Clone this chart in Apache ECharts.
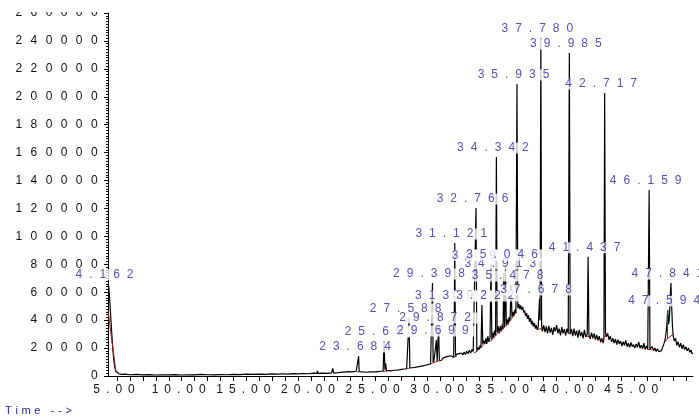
<!DOCTYPE html>
<html>
<head>
<meta charset="utf-8">
<script src="https://cdn.jsdelivr.net/npm/echarts@6/dist/echarts.min.js"></script>
<style>
  html, body { margin: 0; padding: 0; background: #fff; }
  #chart { width: 699px; height: 420px; }
</style>
</head>
<body>
<div id="chart"></div>
<script>
// TIC trace, [time (min), abundance]
const trace = [
  [4.30, 66000], [4.36, 64000], [4.42, 56000], [4.50, 44000], [4.58, 32000], [4.66, 21000],
  [4.74, 12000], [4.82, 6500], [4.90, 3600], [5.00, 2300], [5.15, 1600], [5.35, 1200],
  [5.6, 1300], [6.0, 900], [6.5, 1100], [7.0, 800], [7.5, 1000], [8.0, 700], [8.5, 900],
  [9.0, 800], [9.5, 1000], [10.0, 700], [10.5, 900], [11.0, 800], [11.5, 1100], [12.0, 900],
  [12.5, 800], [13.0, 1000], [13.5, 900], [14.0, 1200], [14.5, 1000], [15.0, 1300], [15.5, 1100],
  [16.0, 1400], [16.5, 1200], [17.0, 1500], [17.4, 1300], [17.8, 1600], [18.2, 1400], [18.6, 1700],
  [19.0, 1500], [19.4, 1800], [19.8, 1600], [20.2, 2000], [20.45, 1900], [20.5, 3600], [20.55, 1900],
  [20.9, 2100], [21.3, 1900], [21.6, 2200], [21.68, 5500], [21.76, 2100], [22.1, 2400], [22.5, 2800],
  [22.9, 3200], [23.2, 2900], [23.5, 3400], [23.64, 3300], [23.684, 14300], [23.73, 3100],
  [24.0, 2900], [24.3, 2700], [24.55, 3000], [24.6, 4200], [24.65, 2800], [25.0, 3000], [25.3, 3300],
  [25.58, 3600], [25.651, 25000], [25.72, 4600], [25.78, 9000], [25.84, 3800],
  [26.0, 3900], [26.1, 4500], [26.2, 3700], [26.3, 4400], [26.4, 4100], [26.5, 5000], [26.6, 4200],
  [26.7, 4800], [26.8, 4400], [26.9, 5300], [27.0, 4700], [27.1, 5400], [27.2, 5000], [27.3, 5800],
  [27.4, 5100], [27.52, 5600], [27.588, 41500], [27.65, 6000], [27.75, 6600], [27.85, 5900],
  [27.95, 6800], [28.05, 6200], [28.15, 7300], [28.25, 6600], [28.35, 7600], [28.45, 6900],
  [28.55, 8100], [28.65, 7300], [28.75, 8400], [28.85, 7700], [28.95, 8900], [29.05, 8100],
  [29.15, 9400], [29.25, 8600], [29.34, 9200], [29.398, 66600], [29.45, 9800], [29.52, 11500],
  [29.6, 10200], [29.699, 25800], [29.76, 10800], [29.82, 11200], [29.872, 35100], [29.93, 11000],
  [30.0, 12400], [30.1, 11300], [30.2, 12800], [30.3, 11900], [30.4, 13500], [30.5, 12300],
  [30.6, 14000], [30.7, 12700], [30.8, 14500], [30.9, 13100], [31.03, 13600], [31.093, 50800],
  [31.121, 95300], [31.18, 14000], [31.25, 15500], [31.35, 14200], [31.45, 16000], [31.55, 14600],
  [31.65, 16500], [31.75, 15000], [31.85, 17200], [31.95, 15400], [32.05, 17800], [32.15, 15900],
  [32.25, 18400], [32.35, 16500], [32.45, 19000], [32.55, 17500], [32.65, 18200], [32.7, 16800],
  [32.766, 120300], [32.83, 18000], [32.9, 20500], [33.0, 18800], [33.08, 22000], [33.15, 20000],
  [33.222, 50800], [33.29, 22500], [33.36, 25500], [33.45, 22800], [33.53, 27000], [33.6, 23000],
  [33.68, 28500], [33.75, 24500], [33.85, 27500], [33.927, 80000], [33.99, 26000], [34.06, 31000],
  [34.13, 27500], [34.2, 32500], [34.28, 29000], [34.342, 156900], [34.40, 31000], [34.48, 35500],
  [34.56, 30500], [34.64, 36000], [34.72, 32000], [34.8, 37000], [34.86, 33500], [34.913, 73800],
  [34.98, 35000], [35.046, 80200], [35.11, 36500], [35.18, 40500], [35.25, 37000], [35.32, 42000],
  [35.4, 39500], [35.478, 65200], [35.55, 42000], [35.62, 46000], [35.7, 43000], [35.78, 47500],
  [35.85, 45000], [35.935, 209200], [36.0, 48500], [36.08, 51500], [36.15, 48000], [36.22, 50500],
  [36.3, 47500], [36.38, 49500], [36.45, 45500], [36.52, 47000], [36.6, 43000], [36.68, 45000],
  [36.75, 41000], [36.82, 43500], [36.9, 39000], [36.98, 41500], [37.05, 37000], [37.12, 39500],
  [37.2, 35500], [37.28, 38000], [37.35, 34000], [37.42, 36500], [37.5, 33000], [37.58, 35500],
  [37.62, 34500], [37.678, 55200], [37.72, 40000], [37.780, 242100], [37.84, 36000], [37.9, 32000],
  [38.0, 36500], [38.1, 31500], [38.2, 35500], [38.3, 30500], [38.4, 36000], [38.5, 31000],
  [38.6, 34500], [38.7, 29500], [38.8, 35000], [38.9, 32000], [39.0, 36500], [39.1, 30500],
  [39.2, 34000], [39.3, 29000], [39.4, 35000], [39.5, 30500], [39.6, 33500], [39.7, 29000],
  [39.8, 34000], [39.9, 30500], [39.985, 231400], [40.05, 30000], [40.15, 33500], [40.25, 28500],
  [40.35, 34000], [40.45, 29000], [40.55, 32500], [40.65, 27500], [40.75, 33000], [40.85, 28500],
  [40.95, 31500], [41.05, 27000], [41.15, 33000], [41.25, 28000], [41.37, 30000], [41.437, 85400],
  [41.5, 29500], [41.6, 26500], [41.7, 31000], [41.8, 27000], [41.9, 30500], [42.0, 26000],
  [42.1, 29500], [42.2, 25500], [42.3, 28500], [42.4, 24500], [42.5, 27000], [42.6, 23500],
  [42.66, 26500], [42.717, 202700], [42.78, 31000], [42.85, 28000], [42.95, 30500], [43.05, 26000],
  [43.15, 28500], [43.25, 24500], [43.35, 27000], [43.45, 23500], [43.55, 26500], [43.65, 22500],
  [43.75, 26000], [43.85, 23000], [43.95, 25000], [44.05, 21500], [44.15, 24500], [44.25, 22000],
  [44.35, 25500], [44.45, 21000], [44.55, 23500], [44.65, 20500], [44.75, 24000], [44.85, 21000],
  [44.95, 22500], [45.05, 20000], [45.15, 23000], [45.25, 20500], [45.35, 24500], [45.45, 20000],
  [45.55, 22000], [45.65, 19500], [45.75, 23500], [45.85, 19000], [45.95, 21500], [46.05, 19500],
  [46.1, 20000], [46.159, 133200], [46.22, 19500], [46.3, 18500], [46.4, 21000], [46.5, 18000],
  [46.6, 20000], [46.7, 17500], [46.8, 19500], [46.9, 17500], [47.0, 18500], [47.1, 18000],
  [47.2, 20500], [47.3, 23000], [47.4, 26500], [47.48, 32000], [47.54, 38000], [47.594, 47300],
  [47.65, 37000], [47.71, 40000], [47.77, 52000], [47.841, 66600], [47.9, 50000], [47.96, 36000],
  [48.02, 28500], [48.1, 25000], [48.2, 27000], [48.3, 22000], [48.4, 24500], [48.5, 20500],
  [48.6, 23500], [48.7, 19500], [48.8, 22500], [48.9, 19000], [49.0, 21000], [49.1, 18000],
  [49.2, 20000], [49.3, 17000], [49.4, 18500], [49.47, 16000], [49.55, 16500]
];

// labelled peaks: retention time and apex abundance
const peakTimes = [4.162, 23.684, 25.651, 27.588, 29.398, 29.699, 29.872, 31.093, 31.121, 32.766,
  33.222, 33.927, 34.342, 34.913, 35.046, 35.478, 35.935, 37.678, 37.780, 39.985, 41.437, 42.717,
  46.159, 47.594, 47.841];
const peakHeights = [66000, 14300, 25000, 41500, 66600, 25800, 35100, 50800, 95300, 120300,
  50800, 80000, 156900, 73800, 80200, 65200, 209200, 55200, 242100, 231400, 85400, 202700,
  133200, 47300, 66600];

// integration baselines: [t1, v1, t2, v2]
const baselines = [
  [4.30, 47000, 4.92, 2500], [23.55, 3000, 23.80, 3100], [25.50, 3300, 25.90, 3700],
  [27.45, 5300, 27.75, 5900], [29.30, 9000, 30.00, 11200], [30.95, 13000, 31.25, 14000],
  [32.60, 16500, 32.90, 18000], [33.10, 20000, 33.35, 22000], [33.85, 24500, 34.45, 30500],
  [34.45, 30500, 35.20, 37000], [35.20, 37000, 35.90, 46000], [37.55, 33500, 37.90, 34000],
  [39.90, 30500, 40.10, 30000], [41.30, 28500, 41.60, 28000], [42.40, 24000, 42.95, 31000],
  [46.00, 19500, 46.35, 19500], [47.35, 24000, 47.594, 27000], [47.594, 27000, 47.594, 47300],
  [47.594, 27000, 48.05, 30000]
];

const xLabelValues = [5, 10, 15, 20, 25, 30, 35, 40, 45];
const xTickValues = [];
for (let t = 5; t <= 49; t++) xTickValues.push(t);

const X_MIN = 4.3;
const FONT = "'Liberation Sans', Arial, sans-serif";
const BLUE = '#25259a';
// the plot draws every glyph with wide letter spacing
const spaced = (s, gap) => s.split('').map(c => c + gap).join('');

const chart = echarts.init(document.getElementById('chart'), null, { renderer: 'canvas' });

chart.setOption({
  animation: false,
  backgroundColor: '#fff',
  grid: { left: 108, right: 6, top: 13, bottom: 44 },
  xAxis: {
    type: 'value',
    min: X_MIN,
    max: 49.55,
    axisLine: { lineStyle: { color: '#000', width: 1 } },
    axisTick: { customValues: xTickValues, length: 5, lineStyle: { color: '#000' } },
    axisLabel: {
      customValues: xLabelValues,
      hideOverlap: false,
      showMinLabel: true,
      showMaxLabel: true,
      color: '#111',
      fontFamily: FONT,
      fontSize: 12,
      margin: 8,
      formatter: v => spaced(v.toFixed(2), '\u2005\u2005')
    },
    splitLine: { show: false }
  },
  yAxis: {
    type: 'value',
    min: 0,
    max: 260000,
    interval: 20000,
    axisLine: { show: true, lineStyle: { color: '#000', width: 1 } },
    axisTick: { show: true, length: 4, lineStyle: { color: '#000' } },
    minorTick: { show: true, splitNumber: 10, length: 2, lineStyle: { color: '#000' } },
    axisLabel: {
      color: '#111',
      fontFamily: FONT,
      fontSize: 12,
      margin: 2,
      showMaxLabel: true,
      formatter: v => spaced(String(v), '\u2002\u2009')
    },
    splitLine: { show: false }
  },
  series: [
    {
      type: 'line',
      data: trace,
      showSymbol: false,
      lineStyle: { color: '#000', width: 1.2 },
      z: 2
    },
    {
      type: 'lines',
      coordinateSystem: 'cartesian2d',
      data: baselines.map(b => ({ coords: [[b[0], b[1]], [b[2], b[3]]] })),
      lineStyle: { color: '#a01818', width: 1, opacity: 1 },
      z: 3
    },
    {
      type: 'scatter',
      clip: false,
      symbolSize: 1,
      itemStyle: { color: 'rgba(0,0,0,0)' },
      // a peak left of the axis start is labelled at the plot edge
      data: peakTimes.map((t, i) => ({ value: [Math.max(t, X_MIN), peakHeights[i]], rt: t })),
      label: {
        show: true,
        position: 'top',
        distance: 3,
        color: BLUE,
        fontFamily: FONT,
        fontSize: 12,
        lineHeight: 11,
        backgroundColor: '#fff',
        padding: [0, 0],
        formatter: p => spaced(p.data.rt.toFixed(3), '\u2004\u2005')
      },
      labelLayout: { hideOverlap: false },
      z: 5
    }
  ],
  graphic: [
    {
      // the source figure is cut off just above the axis top
      type: 'rect',
      left: 0,
      top: 0,
      z: 100,
      shape: { width: 106, height: 12 },
      style: { fill: '#fff' }
    },
    {
      type: 'text',
      left: 5,
      top: 405,
      style: {
        text: spaced('Time -->', '\u2004'),
        fill: BLUE,
        font: '11px ' + FONT
      }
    }
  ]
});
</script>
</body>
</html>
